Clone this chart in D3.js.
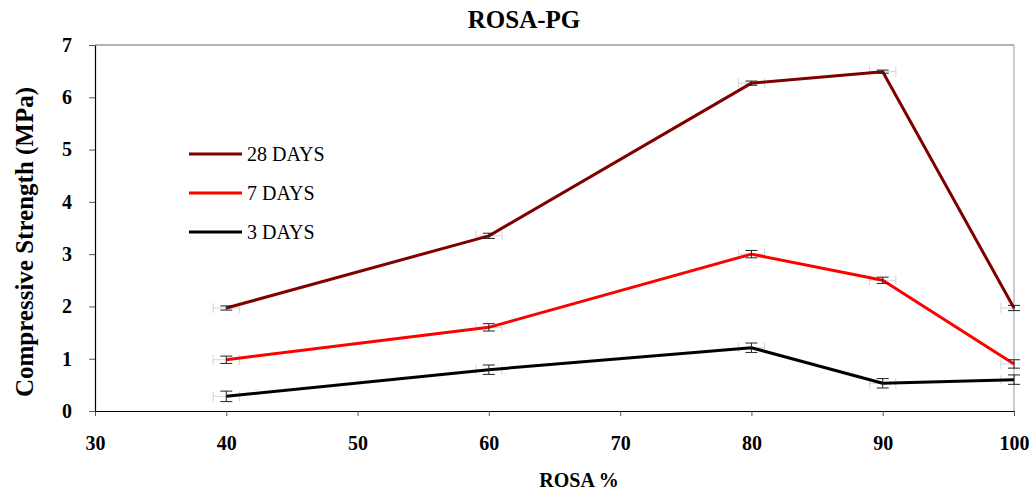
<!DOCTYPE html>
<html>
<head>
<meta charset="utf-8">
<script src="https://cdn.jsdelivr.net/npm/d3@7"></script>
<style>
  body { margin: 0; background: #fff; }
  svg text { font-family: 'Liberation Serif', 'Times New Roman', Tinos, 'DejaVu Serif', 'Noto Serif', serif; }
</style>
</head>
<body>
<svg id="chart" width="1035" height="495"></svg>
<script>
const rosa = [40, 60, 80, 90, 100];
const days28 = [1.97, 3.35, 6.27, 6.49, 1.97];
const days7 = [0.98, 1.6, 3.0, 2.5, 0.9];
const days3 = [0.28, 0.79, 1.21, 0.53, 0.6];
const err28 = [0.04, 0.05, 0.04, 0.03, 0.05];
const err7 = [0.07, 0.07, 0.07, 0.06, 0.08];
const err3 = [0.1, 0.09, 0.09, 0.09, 0.09];
const xErr = [1, 1, 1, 1, 1];
const xTicks = [30, 40, 50, 60, 70, 80, 90, 100];
const yTicks = [0, 1, 2, 3, 4, 5, 6, 7];

const series = [
  { name: '28 DAYS', values: days28, err: err28, color: '#800000' },
  { name: '7 DAYS', values: days7, err: err7, color: '#ff0000' },
  { name: '3 DAYS', values: days3, err: err3, color: '#000000' }
];

const width = 1035;
const height = 495;
const margin = { top: 45, right: 21, bottom: 84, left: 95 };

const svg = d3.select('#chart');

const x = d3
  .scaleLinear()
  .domain([30, 100])
  .range([margin.left, width - margin.right]);

const y = d3
  .scaleLinear()
  .domain([0, 7])
  .range([height - margin.bottom, margin.top]);

// frame: top and right in grey
svg
  .append('line')
  .attr('x1', margin.left)
  .attr('x2', width - margin.right)
  .attr('y1', margin.top)
  .attr('y2', margin.top)
  .attr('stroke', '#666');
svg
  .append('line')
  .attr('x1', width - margin.right)
  .attr('x2', width - margin.right)
  .attr('y1', margin.top)
  .attr('y2', height - margin.bottom)
  .attr('stroke', '#999');

const styleTicks = (g) =>
  g
    .attr('font-family', null)
    .call((g) => g.select('.domain').attr('stroke', '#000').attr('stroke-width', 1.2))
    .call((g) => g.selectAll('.tick line').attr('stroke', '#555'))
    .call((g) =>
      g
        .selectAll('.tick text')
        .attr('font-size', 20)
        .attr('font-weight', 'bold')
        .attr('fill', '#000')
    );

const yAxis = (g) =>
  g
    .attr('transform', `translate(${margin.left},0)`)
    .call(
      d3
        .axisLeft(y)
        .tickValues(yTicks)
        .tickFormat(d3.format('d'))
        .tickSize(6)
        .tickPadding(17)
        .tickSizeOuter(0)
    )
    .call(styleTicks);

const xAxis = (g) =>
  g
    .attr('transform', `translate(0,${height - margin.bottom})`)
    .call(
      d3
        .axisBottom(x)
        .tickValues(xTicks)
        .tickFormat(d3.format('d'))
        .tickSize(5)
        .tickPadding(20)
        .tickSizeOuter(0)
    )
    .call(styleTicks);

svg.append('g').call(xAxis);
svg.append('g').call(yAxis);

// grey horizontal error bars
const xErrGroup = svg.append('g').attr('stroke', '#d4d4d4').attr('stroke-width', 1);
series.forEach((s) => {
  rosa.forEach((r, i) => {
    const cy = y(s.values[i]);
    const x0 = x(r - xErr[i]);
    const x1 = Math.min(x(r + xErr[i]), width - margin.right);
    xErrGroup.append('line').attr('x1', x0).attr('x2', x1).attr('y1', cy).attr('y2', cy);
    xErrGroup.append('line').attr('x1', x0).attr('x2', x0).attr('y1', cy - 5).attr('y2', cy + 5);
    if (x(r + xErr[i]) <= width - margin.right)
      xErrGroup.append('line').attr('x1', x1).attr('x2', x1).attr('y1', cy - 5).attr('y2', cy + 5);
  });
});

const line = d3
  .line()
  .x((d) => x(d[0]))
  .y((d) => y(d[1]));

series.forEach((s) => {
  svg
    .append('path')
    .datum(rosa.map((r, i) => [r, s.values[i]]))
    .attr('fill', 'none')
    .attr('stroke', s.color)
    .attr('stroke-width', 3)
    .attr('stroke-linejoin', 'round')
    .attr('d', line);
});

// vertical error bars
const errGroup = svg.append('g').attr('stroke', '#222').attr('stroke-width', 1);
series.forEach((s) => {
  rosa.forEach((r, i) => {
    const cx = x(r);
    const yl = y(s.values[i] - s.err[i]);
    const yh = y(s.values[i] + s.err[i]);
    errGroup.append('line').attr('x1', cx).attr('x2', cx).attr('y1', yl).attr('y2', yh);
    errGroup.append('line').attr('x1', cx - 6).attr('x2', cx + 6).attr('y1', yl).attr('y2', yl);
    errGroup.append('line').attr('x1', cx - 6).attr('x2', cx + 6).attr('y1', yh).attr('y2', yh);
  });
});

// legend
const legend = svg.append('g').attr('transform', 'translate(189,154)');
series.forEach((s, i) => {
  const g = legend.append('g').attr('transform', `translate(0,${i * 39})`);
  g.append('line').attr('x1', 0).attr('x2', 53).attr('stroke', s.color).attr('stroke-width', 3);
  g.append('text')
    .attr('x', 58)
    .attr('dy', '0.35em')
    .attr('font-size', 20)
    .attr('fill', '#000')
    .text(s.name);
});

// title and axis labels
svg
  .append('text')
  .attr('x', 524)
  .attr('y', 28)
  .attr('text-anchor', 'middle')
  .attr('font-size', 25)
  .attr('font-weight', 'bold')
  .text('ROSA-PG');

svg
  .append('text')
  .attr('x', 579)
  .attr('y', 487)
  .attr('text-anchor', 'middle')
  .attr('font-size', 20)
  .attr('font-weight', 'bold')
  .text('ROSA %');

svg
  .append('text')
  .attr('transform', 'translate(33,242) rotate(-90)')
  .attr('text-anchor', 'middle')
  .attr('font-size', 25)
  .attr('font-weight', 'bold')
  .text('Compressive Strength (MPa)');
</script>
</body>
</html>
